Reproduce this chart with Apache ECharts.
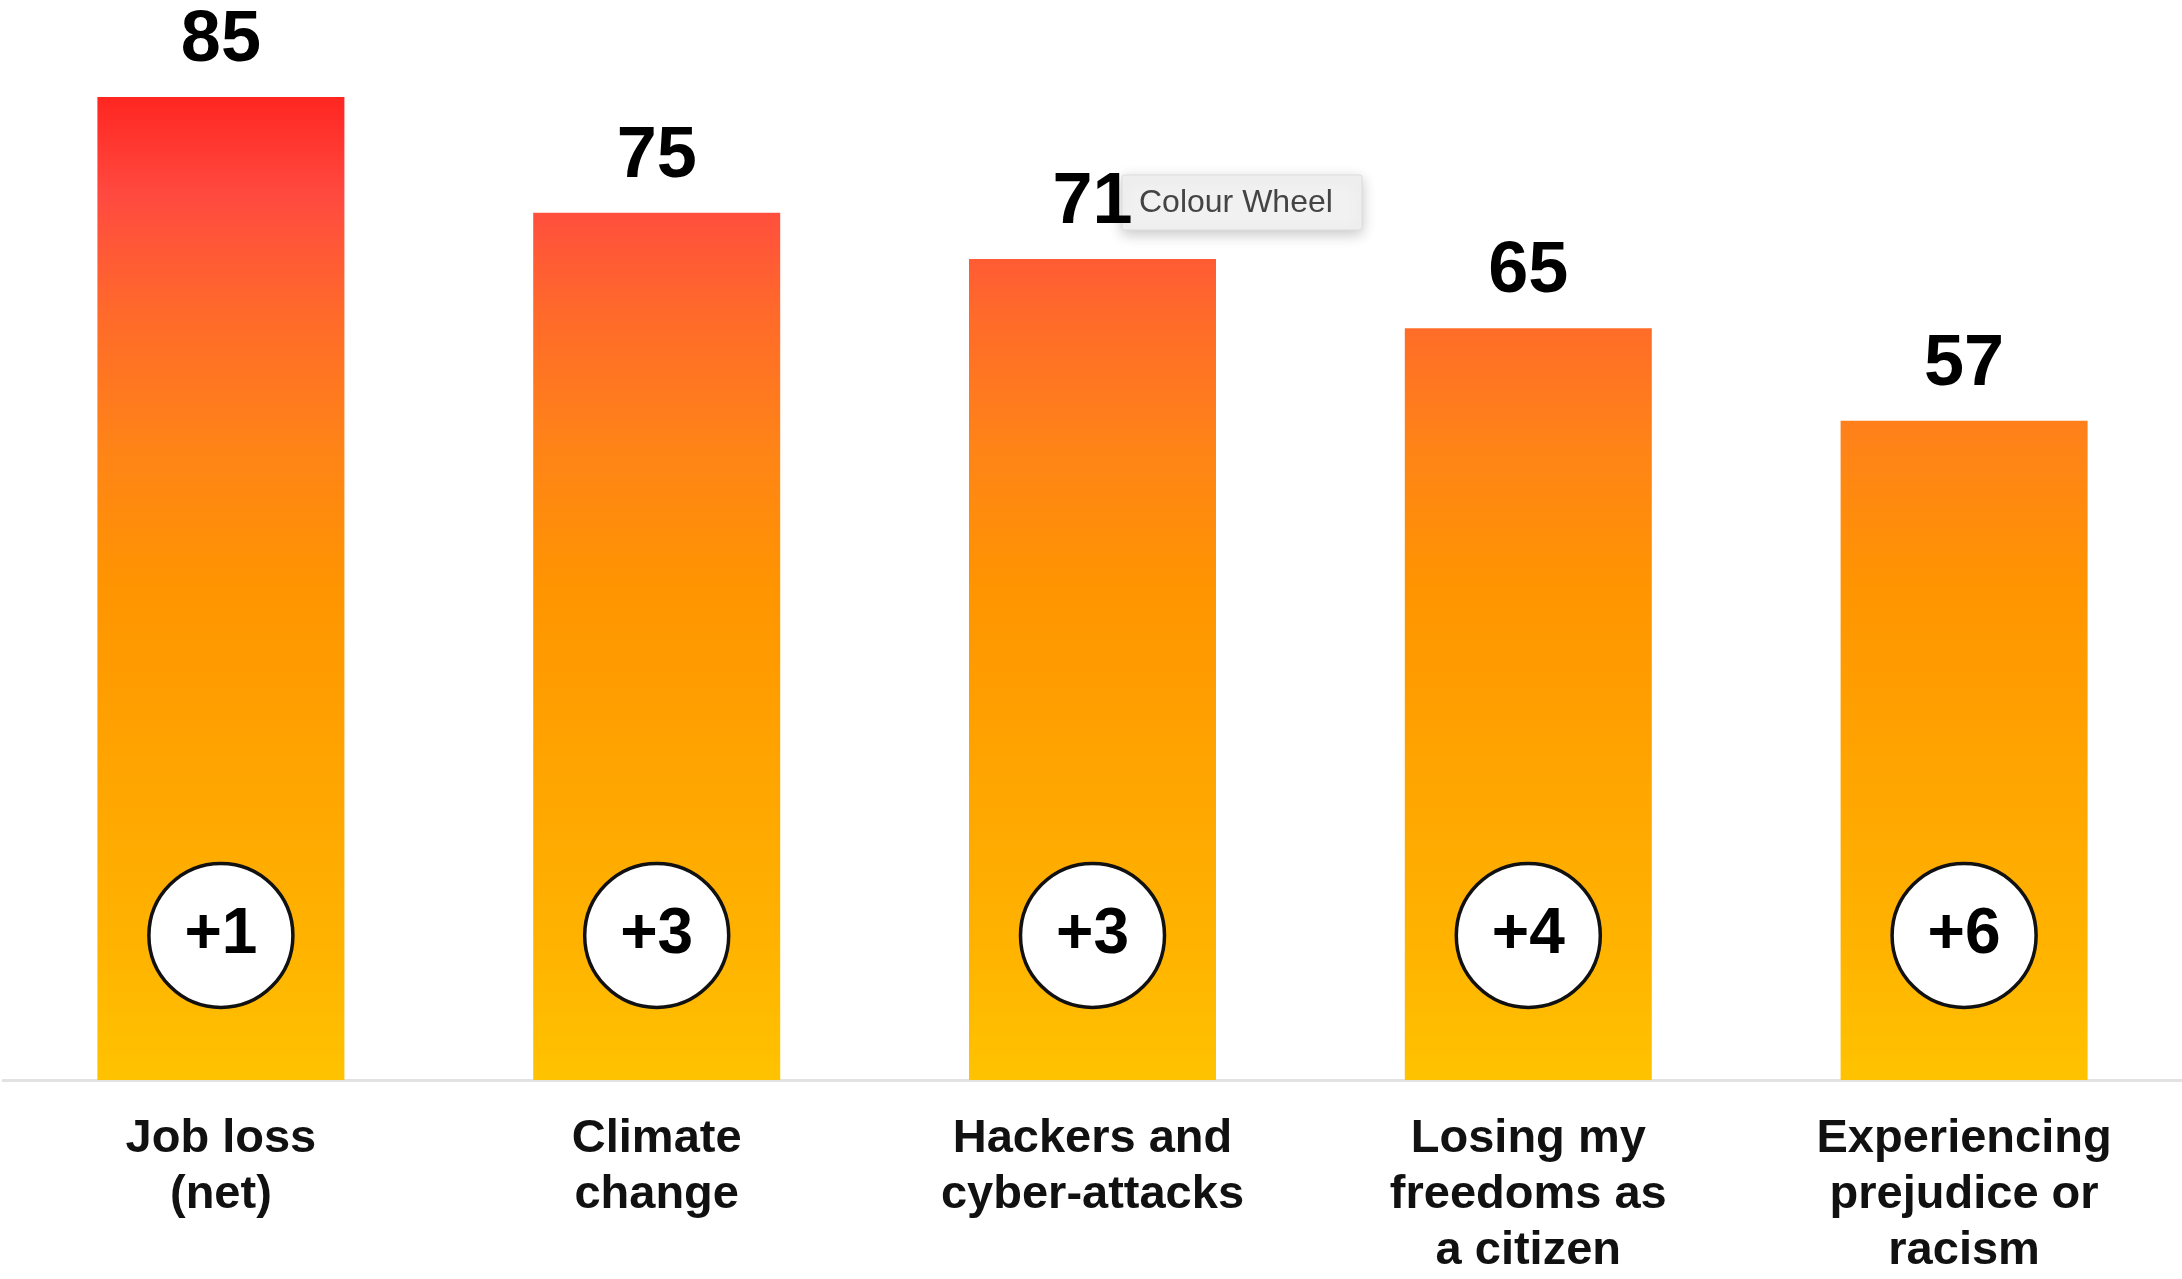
<!DOCTYPE html>
<html>
<head>
<meta charset="utf-8">
<script src="https://cdn.jsdelivr.net/npm/echarts@6/dist/echarts.min.js"></script>
<style>
html,body{margin:0;padding:0;background:#fff;overflow:hidden;}
#chart{width:2182px;height:1279px;}
</style>
</head>
<body>
<div id="chart"></div>
<script>
const categories = ['Job loss\n(net)', 'Climate\nchange', 'Hackers and\ncyber-attacks', 'Losing my\nfreedoms as\na citizen', 'Experiencing\nprejudice or\nracism'];
const values = [85, 75, 71, 65, 57];
const changes = [1, 3, 3, 4, 6];

const FONT = '"Liberation Sans", Arial, Helvetica, sans-serif';
const CIRCLE_Y = 12.5;

const chart = echarts.init(document.getElementById('chart'));
const grad = new echarts.graphic.LinearGradient(0, 97, 0, 1085, [
  {offset: 0, color: '#ff2621'},
  {offset: 0.1, color: '#ff4a40'},
  {offset: 0.22, color: '#ff6a2a'},
  {offset: 0.35, color: '#ff8318'},
  {offset: 0.5, color: '#ff9500'},
  {offset: 0.7, color: '#ffa600'},
  {offset: 0.85, color: '#ffb200'},
  {offset: 1, color: '#ffc300'}
], true);

chart.setOption({
  animation: false,
  backgroundColor: '#ffffff',
  grid: {left: 3, right: 0, top: 97, bottom: 194, containLabel: false},
  xAxis: {
    type: 'category',
    data: categories,
    axisLine: {show: true, lineStyle: {color: '#e2e2e2', width: 3}},
    axisTick: {show: false},
    axisLabel: {
      interval: 0,
      margin: 31,
      fontFamily: FONT,
      fontSize: 47,
      fontWeight: 'bold',
      lineHeight: 56,
      color: '#111'
    }
  },
  yAxis: {
    type: 'value',
    min: 0,
    max: 85,
    show: false,
    splitLine: {show: false}
  },
  series: [
    {
      type: 'bar',
      data: values,
      barWidth: 247,
      itemStyle: {color: grad},
      label: {
        show: true,
        position: 'top',
        distance: 20,
        formatter: '{c}',
        fontFamily: FONT,
        fontSize: 72,
        fontWeight: 'bold',
        lineHeight: 72,
        color: '#000'
      },
      z: 2
    },
    {
      type: 'scatter',
      data: changes.map((c, i) => [i, CIRCLE_Y, c]),
      symbol: 'circle',
      symbolSize: 144,
      itemStyle: {color: '#ffffff', borderColor: '#111', borderWidth: 3.5, opacity: 1},
      label: {
        show: true,
        position: 'inside',
        formatter: p => '+' + p.value[2],
        fontFamily: FONT,
        fontSize: 64,
        fontWeight: 'bold',
        color: '#000'
      },
      z: 5
    }
  ],
  graphic: [
    {
      type: 'group',
      z: 100,
      children: [
        {
          type: 'rect',
          shape: {x: 1122, y: 175, width: 240, height: 55, r: 2},
          style: {
            fill: '#f1f1f1',
            stroke: '#dcdcdc',
            lineWidth: 1,
            shadowBlur: 14,
            shadowColor: 'rgba(0,0,0,0.22)',
            shadowOffsetY: 4
          }
        },
        {
          type: 'text',
          x: 1139,
          y: 203,
          style: {
            text: 'Colour Wheel',
            fontFamily: FONT,
            fontSize: 32,
            fill: '#444',
            textVerticalAlign: 'middle',
            verticalAlign: 'middle'
          }
        }
      ]
    }
  ]
});
</script>
</body>
</html>
